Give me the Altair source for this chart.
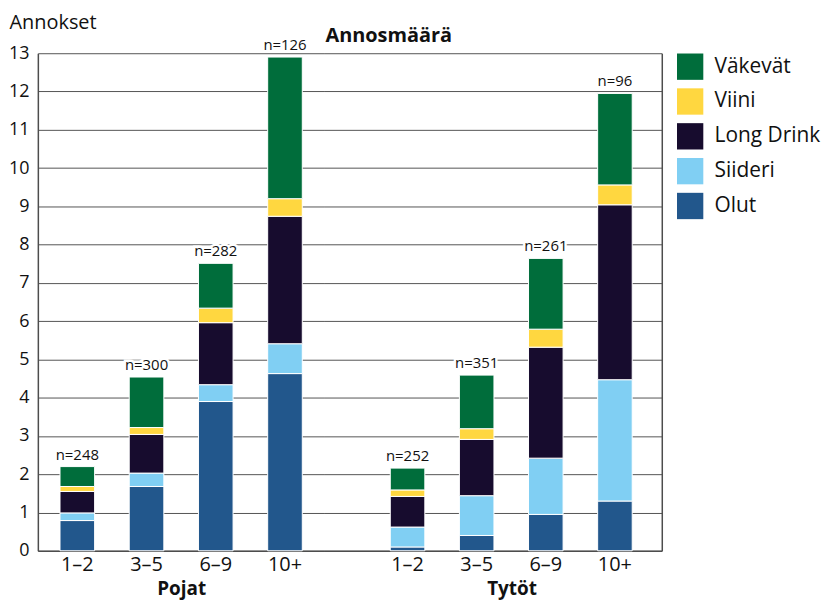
import altair as alt
import pandas as pd

ika = ["1–2", "3–5", "6–9", "10+"]
juomat = ["Olut", "Siideri", "Long Drink", "Viini", "Väkevät"]  # bottom -> top

pojat_olut = [0.79, 1.68, 3.90, 4.63]
pojat_siideri = [0.20, 0.35, 0.44, 0.78]
pojat_longdrink = [0.56, 1.01, 1.62, 3.33]
pojat_viini = [0.13, 0.18, 0.38, 0.46]
pojat_vakevat = [0.52, 1.32, 1.17, 3.70]
pojat_n = [248, 300, 282, 126]

tytot_olut = [0.10, 0.40, 0.95, 1.30]
tytot_siideri = [0.52, 1.04, 1.47, 3.17]
tytot_longdrink = [0.80, 1.47, 2.90, 4.57]
tytot_viini = [0.17, 0.28, 0.47, 0.52]
tytot_vakevat = [0.57, 1.40, 1.85, 2.39]
tytot_n = [252, 351, 261, 96]

colors = {
    "Väkevät": "#006d3b",
    "Viini": "#ffd740",
    "Long Drink": "#170c2e",
    "Siideri": "#80cff3",
    "Olut": "#22578c",
}
legend_order = ["Väkevät", "Viini", "Long Drink", "Siideri", "Olut"]


def build_df(series, ns):
    rows = []
    for i, k in enumerate(ika):
        for j, s in enumerate(juomat):
            rows.append({"ika": k, "juoma": s, "value": series[j][i], "ord": j, "n": ns[i]})
    return pd.DataFrame(rows)


df_p = build_df([pojat_olut, pojat_siideri, pojat_longdrink, pojat_viini, pojat_vakevat], pojat_n)
df_t = build_df([tytot_olut, tytot_siideri, tytot_longdrink, tytot_viini, tytot_vakevat], tytot_n)

FONT = "Open Sans"
GRID = "#555555"
DOMAIN = "#4d4d4d"
H = 500


def panel(df, group_title, width, pad_outer, align, left, title_x=None, chart_title=None):
    xaxis = dict(
        title=group_title, labelAngle=0, ticks=False, labelPadding=4,
        labelFontSize=20, labelColor="#111", titleFontSize=19, titleFontWeight="bold",
        titleColor="#111", titlePadding=5, domainColor=DOMAIN, domainWidth=1.5, grid=False,
    )
    if title_x is not None:
        xaxis["titleX"] = title_x
    x = alt.X("ika:N", sort=ika,
              scale=alt.Scale(paddingInner=0.5, paddingOuter=pad_outer, align=align),
              axis=alt.Axis(**xaxis))
    yscale = alt.Scale(domain=[0, 13], nice=False, zero=True)
    if left:
        yaxis = alt.Axis(
            title="Annokset", titleAngle=0, titleAlign="left", titleBaseline="alphabetic",
            titleX=-29, titleY=-25, titleFontSize=20, titleFontWeight="normal", titleColor="#111",
            values=list(range(14)), ticks=False, labelPadding=9, labelFontSize=18,
            labelColor="#111", domainColor=DOMAIN, domainWidth=1.5,
            grid=True, gridColor=GRID, gridWidth=1,
        )
    else:
        yaxis = alt.Axis(
            title=None, orient="right", values=list(range(14)), ticks=False, labels=False,
            domainColor=DOMAIN, domainWidth=1.5, grid=True, gridColor=GRID, gridWidth=1,
        )
    bars = alt.Chart(df).mark_bar(stroke="white", strokeWidth=1).encode(
        x=x,
        y=alt.Y("value:Q", stack="zero", scale=yscale, axis=yaxis),
        color=alt.Color("juoma:N", scale=alt.Scale(domain=legend_order,
                                                   range=[colors[c] for c in legend_order]),
                        legend=alt.Legend(title=None)),
        order=alt.Order("ord:Q", sort="ascending"),
    )
    base_t = alt.Chart(df).transform_aggregate(
        value="sum(value)", n="max(n)", groupby=["ika"]
    ).transform_calculate(label='"n=" + datum.n')
    enc = dict(x=x, y=alt.Y("value:Q", scale=yscale, axis=yaxis), text="label:N")
    halo = base_t.mark_text(baseline="bottom", dy=-4, fontSize=15, font=FONT,
                            stroke="white", strokeWidth=5, color="white").encode(**enc)
    txt = base_t.mark_text(baseline="bottom", dy=-4, fontSize=15, font=FONT,
                           color="#111").encode(**enc)
    props = dict(width=width, height=H)
    if chart_title is not None:
        props["title"] = alt.TitleParams(chart_title, anchor="start", frame="group",
                                         fontSize=20, fontWeight="bold", color="#111",
                                         offset=7, dx=1, font=FONT)
    return alt.layer(bars, halo, txt).properties(**props)


left = panel(df_p, "Pojat", 288, 0.32, 0.5, True)
right = panel(df_t, "Tytöt", 339, 0.69, 0.69, False, title_x=188, chart_title="Annosmäärä")

chart = alt.hconcat(left, right, spacing=0, bounds="flush").resolve_scale(
    x="independent", y="independent", color="shared"
).properties(padding={"left": 0, "top": 3, "right": 0, "bottom": 0}).configure(
    font=FONT
).configure_view(stroke=None).configure_legend(
    orient="right", offset=15, symbolType="square", symbolSize=700, symbolStrokeWidth=0,
    labelFontSize=21, labelColor="#111", labelOffset=11, rowPadding=8, labelFont=FONT,
)

chart.save("out.html", embed_options={"renderer": "svg", "actions": False})
